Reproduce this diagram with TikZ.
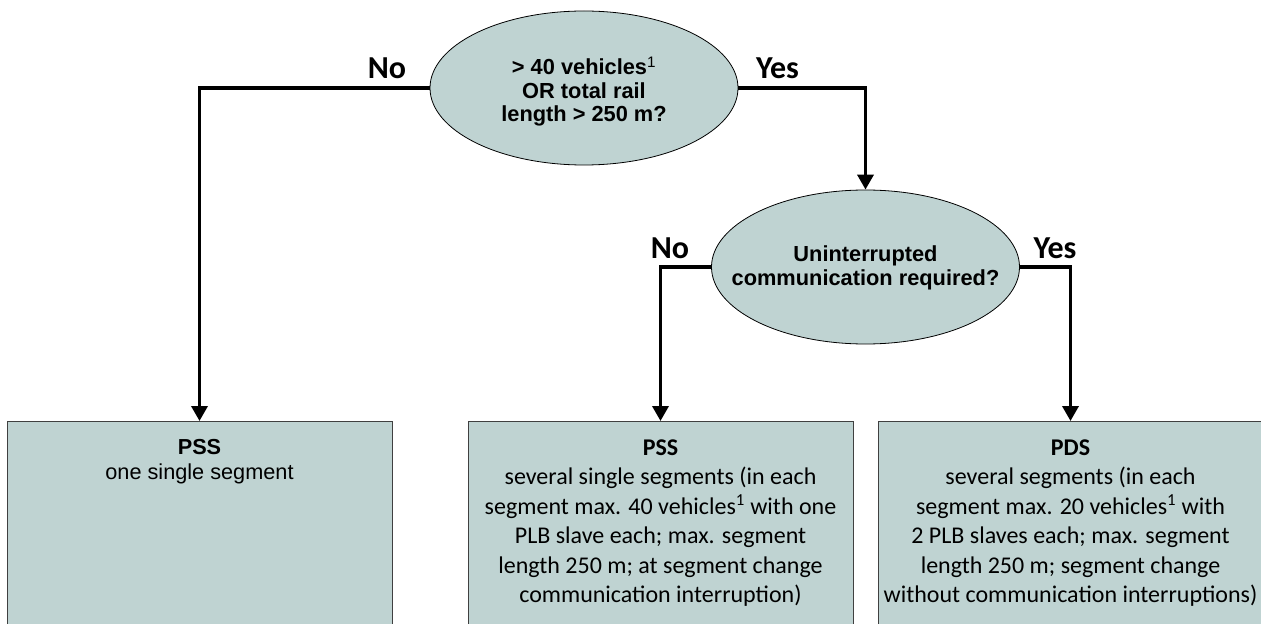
\documentclass[tikz,border=0pt]{standalone}
\usepackage{fontspec}
\setmainfont{Liberation Sans}
\newfontfamily\calibri{Carlito}
\usetikzlibrary{shapes.geometric,arrows.meta}
\definecolor{boxfill}{RGB}{191,211,210}
\begin{document}
\begin{tikzpicture}[x=1bp, y=-1bp,
	quest/.style={ellipse, draw=black, line width=0.8bp, fill=boxfill, minimum width=308bp, minimum height=154bp, inner sep=0pt},
	questtxt/.style={align=center, inner sep=0pt, font=\bfseries\fontsize{21.8bp}{23.5bp}\selectfont},
	result/.style={rectangle, draw=black!75, line width=0.8bp, fill=boxfill, minimum width=385bp, minimum height=215bp, anchor=north, inner sep=0pt},
	txt/.style={anchor=north, align=center, inner sep=0pt},
	lbl/.style={anchor=base, inner sep=0pt, font=\calibri\bfseries\fontsize{32bp}{36bp}\selectfont},
	arr/.style={-{Triangle[length=15bp,width=16bp]}, line width=3.5bp}]
	\useasboundingbox (0,0) rectangle (1261,624);
	% questions
	\node[quest] (q1) at (584,88) {};
	\node[quest] (q2) at (865.5,267) {};
	\node[questtxt] (q1txt) at ([yshift=-3.5bp]q1.center) {> 40 vehicles\textsuperscript{\mdseries 1}\\OR total rail\\length > 250 m?};
	\node[questtxt, font=\bfseries\fontsize{21.8bp}{24bp}\selectfont] (q2txt) at ([yshift=-0.5bp]q2.center) {Uninterrupted\\communication required?};
	% results
	\node[result] (pss1) at (199.5,421) {};
	\node[result] (pss2) at (660.5,421) {};
	\node[result] (pds) at (1070.5,421) {};
	\node[txt, font=\fontsize{21.7bp}{25bp}\selectfont] (pss1txt) at ([yshift=-18.5bp]pss1.north) {{\bfseries PSS}\\one single segment};
	\node[txt, font=\calibri\fontsize{24bp}{29.4bp}\selectfont] (pss2txt) at ([yshift=-18.5bp]pss2.north) {{\bfseries PSS}\\several single segments (in each\\segment max. 40 vehicles\textsuperscript{1} with one\\PLB slave each; max. segment\\length 250 m; at segment change\\communication interruption)};
	\node[txt, font=\calibri\fontsize{24bp}{29.4bp}\selectfont] (pdstxt) at ([yshift=-18.5bp]pds.north) {{\bfseries PDS}\\several segments (in each\\segment max. 20 vehicles\textsuperscript{1} with\\2 PLB slaves each; max. segment\\length 250 m; segment change\\without communication interruptions)};
	% connectors
	\draw[arr] (q1.west) -| (pss1.north);
	\draw[arr] (q1.east) -| (q2.north);
	\draw[arr] (q2.west) -| (pss2.north);
	\draw[arr] (q2.east) -| (pds.north);
	\node[lbl] (no1) at (387,79) {No};
	\node[lbl] (yes1) at (777.5,79) {Yes};
	\node[lbl] (no2) at (670,259) {No};
	\node[lbl] (yes2) at (1055,259) {Yes};
\end{tikzpicture}
\end{document}
